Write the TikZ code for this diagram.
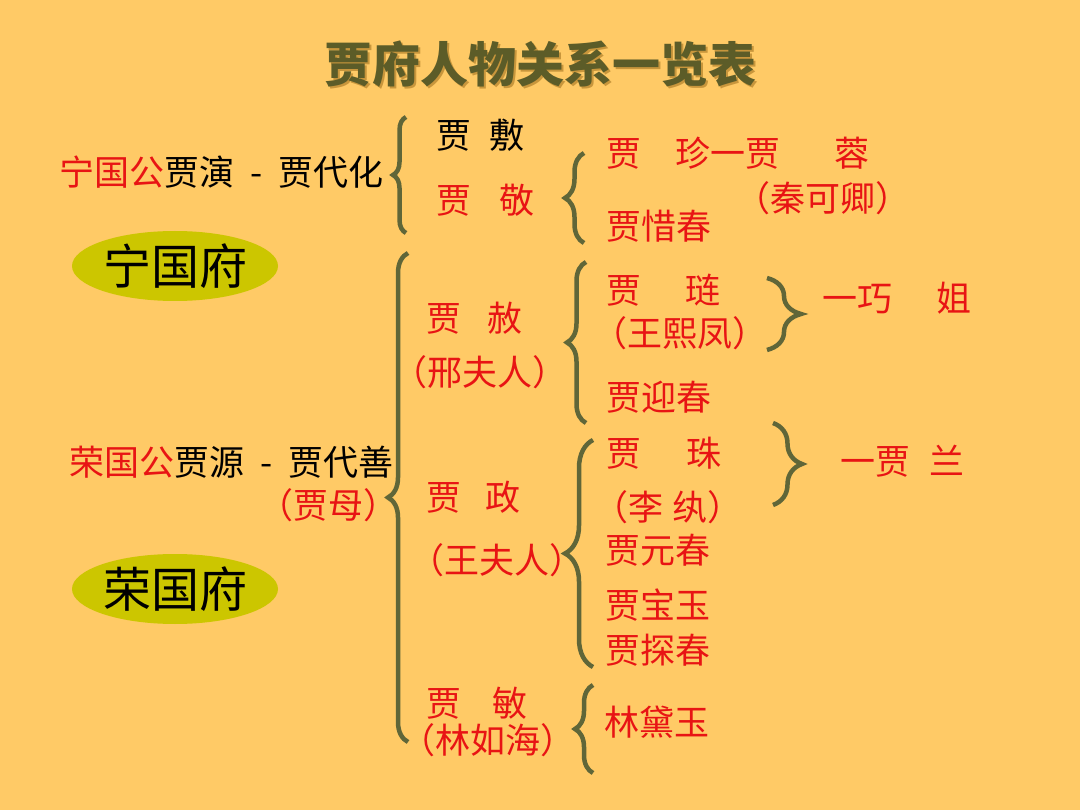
\documentclass[tikz,border=0pt]{standalone}
\usepackage{fontspec}
\setmainfont{Noto Sans CJK SC}
\usetikzlibrary{decorations.pathreplacing,shapes.geometric}
\definecolor{mauNen}{RGB}{255,202,102}
\definecolor{mauNgoac}{RGB}{96,102,56}
\definecolor{mauDo}{RGB}{232,20,20}
\definecolor{mauTieuDe}{RGB}{92,92,40}
\definecolor{mauBong}{RGB}{200,150,60}
\definecolor{mauPhu}{RGB}{204,198,0}
\begin{document}
\begin{tikzpicture}[x=1pt,y=-1pt,
	ngoac/.style={decorate,decoration={brace,amplitude=#1},line width=4.5pt,color=mauNgoac},
	ten/.style={inner sep=0pt,anchor=west,text=mauDo,font=\fontsize{35}{38}\selectfont},
	phu/.style={ellipse,fill=mauPhu,minimum width=206pt,minimum height=70pt,inner sep=0pt,font=\fontsize{48}{52}\selectfont}]
	\fill[mauNen] (0,0) rectangle (1080,810);
	% tieu de
	\node[text=mauBong,font=\fontsize{48}{52}\selectfont\bfseries] (bong) at (542,66) {贾府人物关系一览表};
	\node[text=mauTieuDe,font=\fontsize{48}{52}\selectfont\bfseries] (tieude) at (540,64) {贾府人物关系一览表};
	% hai phu
	\node[phu] (ningfu) at (175,266) {宁国府};
	\node[phu] (rongfu) at (175,589) {荣国府};
	\node[ten,anchor=east,text=black] (ningcong) at (384,172) {\textcolor{mauDo}{宁国公}贾演\hspace{16pt}-\hspace{16pt}贾代化};
	\node[ten,anchor=east,text=black] (rongcong) at (394,462) {\textcolor{mauDo}{荣国公}贾源\hspace{16pt}-\hspace{16pt}贾代善};
	\node[ten,anchor=center] (jiamu) at (328,505) {（贾母）};
	% the he thu hai
	\node[ten,text=black] (jiafu) at (436,135) {贾\hspace{18pt}敷};
	\node[ten] (jiajing) at (436,200) {贾\hspace{28pt}敬};
	\node[ten] (jiashe) at (426,318) {贾\hspace{26pt}赦};
	\node[ten,anchor=center] (xing) at (480,372) {（邢夫人）};
	\node[ten] (jiazheng) at (426,497) {贾\hspace{24pt}政};
	\node[ten,anchor=center] (wangfr) at (497,560) {（王夫人）};
	\node[ten] (jiamin) at (426,703) {贾\hspace{31pt}敏};
	\node[ten,anchor=center] (linruhai) at (488,740) {（林如海）};
	% the he thu ba
	\node[ten] (jiazhen) at (606,153) {贾\hspace{34pt}珍一贾\hspace{54pt}蓉};
	\node[ten,anchor=center] (qin) at (823,198) {（秦可卿）};
	\node[ten] (xichun) at (606,226) {贾惜春};
	\node[ten] (jialian) at (606,290) {贾\hspace{44pt}琏};
	\node[ten,anchor=center] (wangxf) at (680,333) {（王熙凤）};
	\node[ten] (yingchun) at (606,397) {贾迎春};
	\node[ten] (jiazhu) at (606,453) {贾\hspace{45pt}珠};
	\node[ten,anchor=center] (liwan) at (668,507) {（李\hspace{10pt}纨）};
	\node[ten] (yuanchun) at (605,550) {贾元春};
	\node[ten] (baoyu) at (605,605) {贾宝玉};
	\node[ten] (tanchun) at (605,650) {贾探春};
	\node[ten] (daiyu) at (604,722) {林黛玉};
	% the he thu tu
	\node[ten] (qiaojie) at (822,298) {一巧\hspace{44pt}姐};
	\node[ten] (jialan) at (840,461) {一贾\hspace{19pt}兰};
	% cac dau ngoac
	\coordinate (n1a) at (406,117); \coordinate (n1b) at (406,233);
	\coordinate (n2a) at (584,153); \coordinate (n2b) at (584,243);
	\coordinate (n3a) at (408,253); \coordinate (n3b) at (408,742);
	\coordinate (n4a) at (586,262); \coordinate (n4b) at (586,423);
	\coordinate (n5a) at (767,278); \coordinate (n5b) at (767,350);
	\coordinate (n6a) at (593,440); \coordinate (n6b) at (593,667);
	\coordinate (n7a) at (773,423); \coordinate (n7b) at (773,505);
	\coordinate (n8a) at (593,685); \coordinate (n8b) at (593,773);
	\draw[ngoac=13pt] (n1b) -- (n1a);
	\draw[ngoac=19pt] (n2b) -- (n2a);
	\draw[ngoac=20pt] (n3b) -- (n3a);
	\draw[ngoac=19pt] (n4b) -- (n4a);
	\draw[ngoac=34pt] (n5a) -- (n5b);
	\draw[ngoac=28pt] (n6b) -- (n6a);
	\draw[ngoac=29pt] (n7a) -- (n7b);
	\draw[ngoac=18pt] (n8b) -- (n8a);
\end{tikzpicture}
\end{document}
